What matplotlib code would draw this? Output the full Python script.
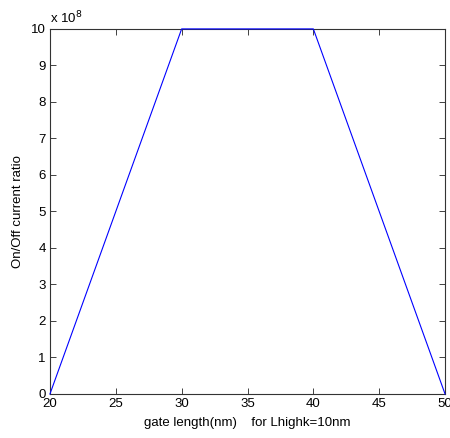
import matplotlib
matplotlib.use("Agg")
import matplotlib.pyplot as plt

gate_length = [20, 30, 40, 50]
on_off_ratio = [0, 1e9, 1e9, 0]
x_ticks = [20, 25, 30, 35, 40, 45, 50]
y_ticks = [0, 1, 2, 3, 4, 5, 6, 7, 8, 9, 10]

plt.rcParams['font.family'] = ['Liberation Sans', 'DejaVu Sans']
plt.rcParams['font.size'] = 9.5

fig = plt.figure(figsize=(4.5, 4.38), dpi=100)
ax = fig.add_axes([0.111, 0.1005, 0.878, 0.8335])
scale = 1e8
ax.plot(gate_length, [v / scale for v in on_off_ratio], color='#0000ff', lw=0.8,
        zorder=5, clip_on=False)
ax.set_xlim(20, 50)
ax.set_ylim(0, 10)
ax.set_xticks(x_ticks)
ax.set_yticks(y_ticks)
ax.tick_params(direction='in', top=True, right=True, length=4, width=0.6, pad=3,
               colors='#222222', labelcolor='black')
for s in ax.spines.values():
    s.set_linewidth(0.8)
    s.set_color('#333333')
ax.text(0.0, 1.008, r'x 10$^{8}$', transform=ax.transAxes, fontsize=9.5, ha='left', va='bottom')
ax.set_xlabel('gate length(nm)    for Lhighk=10nm', labelpad=5)
ax.set_ylabel('On/Off current ratio', labelpad=5)
fig.savefig('out.png', dpi=100)
